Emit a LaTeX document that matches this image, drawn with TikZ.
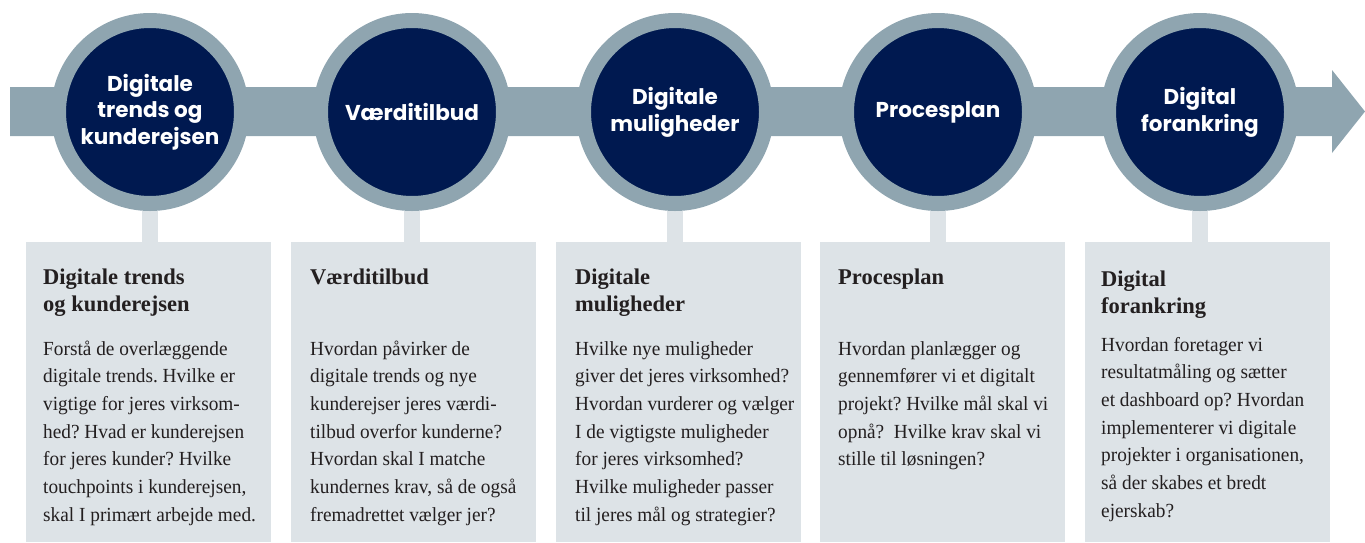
\documentclass[tikz,border=0pt]{standalone}
\usepackage{fontspec}
\setmainfont{Liberation Serif}
\newfontfamily\popfont{Poppins}
\newfontfamily\bodyfont{Liberation Serif}[FakeStretch=0.965]
\usetikzlibrary{backgrounds}
\definecolor{navy}{HTML}{001950}
\definecolor{ringc}{HTML}{8FA5B0}
\definecolor{boxc}{HTML}{DDE3E7}
\definecolor{txt}{HTML}{231F20}
\frenchspacing
\begin{document}
\begin{tikzpicture}[x=1pt,y=-1pt,
 phase/.style={circle, fill=navy, draw=ringc, line width=15pt, minimum size=183pt, inner sep=0pt, text=white, align=center, font=\popfont\bfseries\fontsize{21.5}{26.7}\selectfont},
 infobox/.style={rectangle, fill=boxc, anchor=north west, minimum width=245pt, minimum height=300pt, inner sep=0pt},
 boxtitle/.style={anchor=base west, inner sep=0pt, align=left, text=txt, font=\bfseries\fontsize{22.5}{27.5}\selectfont},
 boxbody/.style={anchor=base west, inner sep=0pt, align=left, text=txt, font=\bodyfont\fontsize{20}{27.7}\selectfont},
 stem/.style={draw=boxc, line width=16pt},
 band/.style={fill=ringc}]
\useasboundingbox (0,0) rectangle (1365,542);

% arrow band
\fill[band] (10,87) -- (1332,87) -- (1332,70) -- (1365,111.5) -- (1332,153) -- (1332,136) -- (10,136) -- cycle;

% circles
\node[phase] (c1) at (150,112) {Digitale\\trends og\\kunderejsen};
\node[phase] (c2) at (412,112) {Værditilbud};
\node[phase] (c3) at (675,112) {Digitale\\muligheder};
\node[phase] (c4) at (938,112) {Procesplan};
\node[phase] (c5) at (1200,112) {Digital\\forankring};

% boxes
\node[infobox] (b1) at (26,242) {};
\node[infobox] (b2) at (291,242) {};
\node[infobox] (b3) at (556,242) {};
\node[infobox] (b4) at (820,242) {};
\node[infobox] (b5) at (1085,242) {};

\begin{pgfonlayer}{background}
\foreach \i in {1,...,5} {
  \draw[stem] (c\i.south) -- (c\i.south |- b\i.north);
}
\end{pgfonlayer}

% box titles (anchor = baseline of last line)
\node[boxtitle] (t1) at (43,311.5) {Digitale trends\\og kunderejsen};
\node[boxtitle] (t2) at (310,284) {Værditilbud};
\node[boxtitle] (t3) at (575,311.5) {Digitale\\muligheder};
\node[boxtitle] (t4) at (838,284) {Procesplan};
\node[boxtitle] (t5) at (1101,313.5) {Digital\\forankring};

% box bodies (anchor = baseline of last line)
\node[boxbody] (d1) at (43,521.2) {Forstå de overlæggende\\digitale trends. Hvilke er\\vigtige for jeres virksom-\\hed? Hvad er kunderejsen\\for jeres kunder? Hvilke\\touchpoints i kunderejsen,\\skal I primært arbejde med.};
\node[boxbody] (d2) at (310,521.2) {Hvordan påvirker de\\digitale trends og nye\\kunderejser jeres værdi-\\tilbud overfor kunderne?\\Hvordan skal I matche\\kundernes krav, så de også\\fremadrettet vælger jer?};
\node[boxbody] (d3) at (575,521.2) {Hvilke nye muligheder\\giver det jeres virksomhed?\\Hvordan vurderer og vælger\\I de vigtigste muligheder\\for jeres virksomhed?\\Hvilke muligheder passer\\til jeres mål og strategier?};
\node[boxbody] (d4) at (838,465.8) {Hvordan planlægger og\\gennemfører vi et digitalt\\projekt? Hvilke mål skal vi\\opnå?\ \ Hvilke krav skal vi\\stille til løsningen?};
\node[boxbody] (d5) at (1101,517.2) {Hvordan foretager vi\\resultatmåling og sætter\\et dashboard op? Hvordan\\implementerer vi digitale\\projekter i organisationen,\\så der skabes et bredt\\ejerskab?};
\end{tikzpicture}
\end{document}
